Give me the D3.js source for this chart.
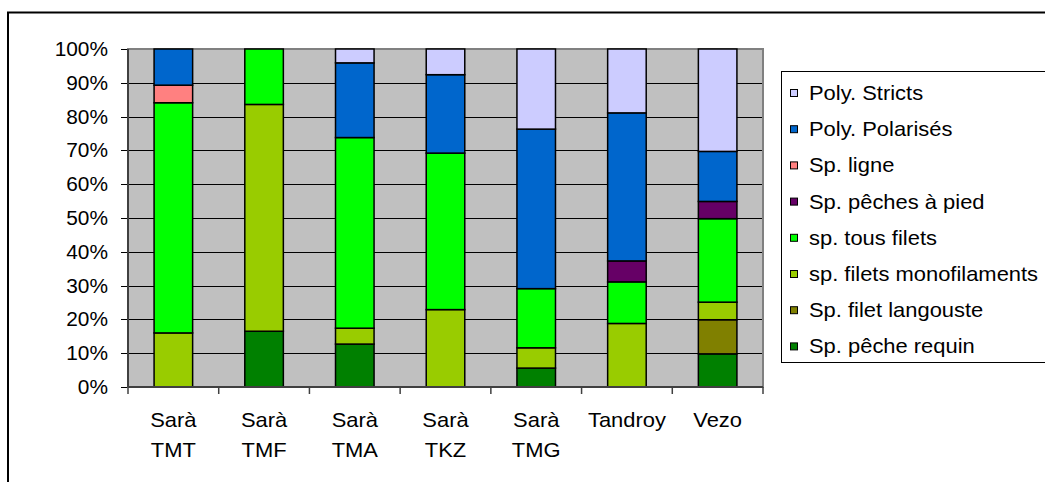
<!DOCTYPE html>
<meta charset="utf-8">
<style>

body {
  margin: 0;
  font-family: "Liberation Sans", Arial, Helvetica, sans-serif;
  width: 1045px;
  height: 482px;
  background: #fff;
  overflow: hidden;
}

svg {
	width: 1045px;
	height: 482px;
	display: block;
}

.bar {
	stroke: #000;
	stroke-width: 1.5px;
}

text {
	fill: #000;
}

</style>
<body>

<script src="https://d3js.org/d3.v7.min.js"></script>
<script>

// categories along x
let categories = ["Sarà TMT", "Sarà TMF", "Sarà TMA", "Sarà TKZ", "Sarà TMG", "Tandroy", "Vezo"];

// series, from bottom of the stack to top (values in %)
let series = ["Sp. pêche requin", "Sp. filet langouste", "sp. filets monofilaments", "sp. tous filets",
	"Sp. pêches à pied", "Sp. ligne", "Poly. Polarisés", "Poly. Stricts"];

let requin     = [0,    16.5, 12.7, 0,    5.6,  0,    9.8];
let langouste  = [0,    0,    0,    0,    0,    0,    10.1];
let monofil    = [16,   67.1, 4.7,  22.9, 6.0,  18.8, 5.2];
let tousFilets = [68.1, 16.4, 56.4, 46.3, 17.5, 12.3, 24.7];
let aPied      = [0,    0,    0,    0,    0,    6.2,  5.1];
let ligne      = [5.2,  0,    0,    0,    0,    0,    0];
let polarises  = [10.7, 0,    22.1, 23.2, 47.2, 43.8, 14.8];
let stricts    = [0,    0,    4.1,  7.6,  23.7, 18.9, 30.3];

let colors = ["#008000", "#808000", "#99CC00", "#00FF00", "#660066", "#FF8080", "#0066CC", "#CCCCFF"];

let yTicks = [0, 0.1, 0.2, 0.3, 0.4, 0.5, 0.6, 0.7, 0.8, 0.9, 1];

let seriesValues = [requin, langouste, monofil, tousFilets, aPied, ligne, polarises, stricts];

let rows = categories.map(function(c, i) {
	let r = { cat: c };
	series.forEach(function(s, j) { r[s] = seriesValues[j][i]; });
	return r;
});

let plotL = 128, plotR = 763, plotT = 49, plotB = 387;
// the original font is a little wider than Liberation Sans
let stretch = 1.07;

let x = d3.scaleBand()
	.domain(categories)
	.range([plotL, plotR])
	.paddingInner(0.575)
	.paddingOuter(0.2875);

let y = d3.scaleLinear()
	.domain([0, 1])
	.range([plotB, plotT]);

let color = d3.scaleOrdinal()
	.domain(series)
	.range(colors);

let stack = d3.stack()
	.keys(series)
	.offset(d3.stackOffsetExpand);

function place(px, py) {
	return "translate(" + px + "," + py + ") scale(" + stretch + ",1)";
}

let svg = d3.select("body").append("svg");

// outer chart frame (runs off the right and bottom of the picture)
svg.append("rect")
	.attr("x", 8).attr("y", 12.5)
	.attr("width", 1100).attr("height", 520)
	.attr("fill", "#fff")
	.attr("stroke", "#000")
	.attr("stroke-width", 2);

// plot background
svg.append("rect")
	.attr("x", plotL).attr("y", plotT)
	.attr("width", plotR - plotL).attr("height", plotB - plotT)
	.attr("fill", "#C0C0C0");

// gridlines + y ticks
svg.append("g")
	.selectAll("line")
	.data(yTicks)
	.join("line")
	.attr("x1", plotL - 7).attr("x2", plotR)
	.attr("y1", function(d) { return Math.round(y(d)) + 0.5; })
	.attr("y2", function(d) { return Math.round(y(d)) + 0.5; })
	.attr("stroke", "#000")
	.attr("stroke-width", 1);

svg.append("g")
	.selectAll("text")
	.data(yTicks)
	.join("text")
	.attr("transform", function(d) { return place(plotL - 20, y(d) + 7); })
	.attr("text-anchor", "end")
	.style("font-size", "19.5px")
	.text(d3.format(".0%"));

// plot border
svg.append("rect")
	.attr("x", plotL).attr("y", plotT)
	.attr("width", plotR - plotL).attr("height", plotB - plotT)
	.attr("fill", "none")
	.attr("stroke", "#808080")
	.attr("stroke-width", 2);

// stacked bars
let layers = svg.append("g")
	.selectAll("g")
	.data(stack(rows))
	.join("g")
	.attr("fill", function(d) { return color(d.key); });

layers.selectAll("rect")
	.data(function(d) { return d; })
	.join("rect")
	.attr("class", "bar")
	.attr("x", function(d) { return x(d.data.cat); })
	.attr("width", x.bandwidth())
	.attr("y", function(d) { return y(d[1]); })
	.attr("height", function(d) { return y(d[0]) - y(d[1]); })
	.attr("display", function(d) { return d[1] - d[0] > 0 ? null : "none"; });

// x axis line and boundary ticks
let step = x.step();
svg.append("line")
	.attr("x1", plotL).attr("x2", plotR)
	.attr("y1", plotB).attr("y2", plotB)
	.attr("stroke", "#404040").attr("stroke-width", 2);

svg.append("line")
	.attr("x1", plotL).attr("x2", plotL)
	.attr("y1", plotT).attr("y2", plotB)
	.attr("stroke", "#404040").attr("stroke-width", 2);

svg.append("g")
	.selectAll("line")
	.data(d3.range(categories.length + 1))
	.join("line")
	.attr("x1", function(i) { return plotL + i * step; })
	.attr("x2", function(i) { return plotL + i * step; })
	.attr("y1", plotB).attr("y2", plotB + 7)
	.attr("stroke", "#404040").attr("stroke-width", 1.5);

// category labels (two lines)
svg.append("g")
	.selectAll("text")
	.data(categories)
	.join("text")
	.attr("transform", function(d) { return place(x(d) + x.bandwidth() / 2, 427); })
	.attr("text-anchor", "middle")
	.style("font-size", "20.5px")
	.each(function(d) {
		let parts = d.split(" ");
		let t = d3.select(this);
		parts.forEach(function(p, i) {
			t.append("tspan")
				.attr("x", 0)
				.attr("dy", i === 0 ? 0 : 30)
				.text(p);
		});
	});

// legend
let legend = svg.append("g");

legend.append("rect")
	.attr("x", 781.5).attr("y", 71.5)
	.attr("width", 400).attr("height", 291)
	.attr("fill", "#fff")
	.attr("stroke", "#000")
	.attr("stroke-width", 1);

let legendItems = legend.selectAll("g")
	.data(series.slice().reverse())
	.join("g")
	.attr("transform", function(d, i) { return "translate(0," + (89 + i * 36.2) + ")"; });

legendItems.append("rect")
	.attr("x", 790.5).attr("y", 0.5)
	.attr("width", 7).attr("height", 7)
	.attr("fill", function(d) { return color(d); })
	.attr("stroke", "#000")
	.attr("stroke-width", 1);

legendItems.append("text")
	.attr("transform", place(809, 11))
	.style("font-size", "20.5px")
	.text(function(d) { return d; });

</script>
</body>
